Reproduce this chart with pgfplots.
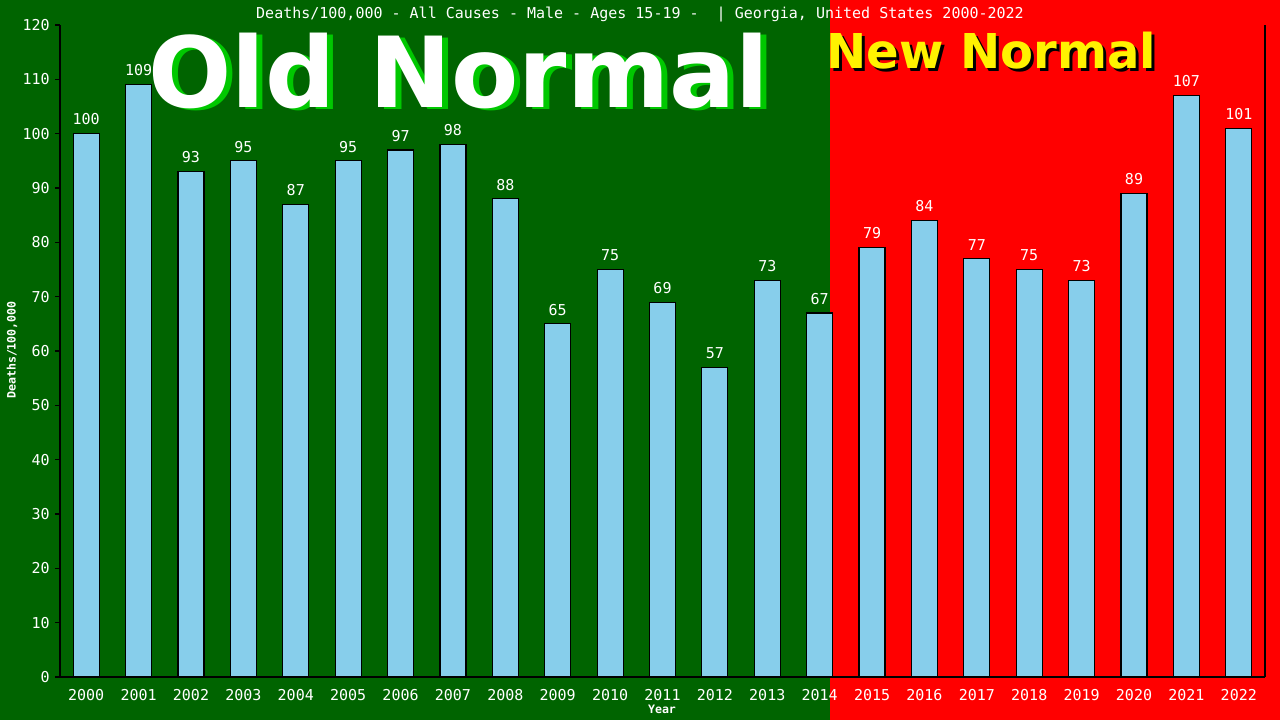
\documentclass[border=0pt]{standalone}
\usepackage{fontspec}
\setmainfont{DejaVu Sans Mono}
\newfontfamily\bigfont{DejaVu Sans}
\usepackage{pgfplots}
\pgfplotsset{compat=1.18}

\definecolor{oldgreen}{RGB}{0,100,0}
\definecolor{newred}{RGB}{255,0,0}
\definecolor{shadowgreen}{RGB}{0,200,0}
\definecolor{barblue}{RGB}{135,206,235}

\pgfplotstableread{
year rate
2000 100
2001 109
2002 93
2003 95
2004 87
2005 95
2006 97
2007 98
2008 88
2009 65
2010 75
2011 69
2012 57
2013 73
2014 67
2015 79
2016 84
2017 77
2018 75
2019 73
2020 89
2021 107
2022 101
}\deathrates

\begin{document}
\begin{tikzpicture}[x=1pt,y=1pt]
% background: old normal / new normal
\fill[oldgreen] (0,0) rectangle (415,360);
\fill[newred] (415,0) rectangle (640,360);

\begin{axis}[
    at={(30pt,21.5pt)}, anchor=south west,
    scale only axis,
    width=602.5pt, height=326pt,
    xmin=1999.5, xmax=2022.5,
    ymin=0, ymax=120,
    axis line style={draw=none},
    xtick={2000,2001,...,2022},
    ytick={0,10,...,120},
    ytick pos=left, xtick pos=bottom,
    tick align=outside,
    major tick length=2.5pt,
    xtick style={draw=none},
    ytick style={black, line width=0.6pt},
    xticklabel style={text=white, font=\fontsize{7.5}{9}\selectfont,
        /pgf/number format/1000 sep={}, inner sep=0pt, yshift=-3.5pt},
    yticklabel style={text=white, font=\fontsize{7.5}{9}\selectfont, inner sep=0pt, xshift=-2.5pt},
    /pgf/number format/assume math mode=true,
    ybar, bar width=13pt,
    nodes near coords,
    every node near coord/.append style={text=white, font=\fontsize{7.5}{9}\selectfont,
        anchor=south, inner sep=0pt, yshift=4pt},
    clip=false,
]
\addplot[fill=barblue, draw=black, line width=0.6pt] table[x=year, y=rate] {\deathrates};
\draw[black, line width=0.6pt] (rel axis cs:0,1) -- (rel axis cs:0,0);
\draw[black, line width=0.6pt] (rel axis cs:1,1) -- (rel axis cs:1,0);
\draw[black, line width=0.6pt] ([xshift=-2.5pt]rel axis cs:0,0) -- (rel axis cs:1,0);
\end{axis}

% title and axis labels
\node[anchor=base, text=white, inner sep=0pt, font=\fontsize{7.5}{9}\selectfont]
    at (320,351) {Deaths/100,000 - All Causes - Male - Ages 15-19 -~~| Georgia, United States 2000-2022};
\node[rotate=90, text=white, inner sep=0pt, font=\fontsize{5.8}{7}\selectfont\bfseries]
    at (6,185) {Deaths/100,000};
\node[text=white, inner sep=0pt, font=\fontsize{5.8}{7}\selectfont\bfseries]
    at (331,5.5) {Year};

% banners
\node[anchor=base west, inner sep=0pt, text=shadowgreen, font=\bigfont\bfseries\fontsize{49}{55}\selectfont]
    at (77,305.5) {Old Normal};
\node[anchor=base west, inner sep=0pt, text=white, font=\bigfont\bfseries\fontsize{49}{55}\selectfont]
    at (74,306.5) {Old Normal};
\node[anchor=base west, inner sep=0pt, text=black, font=\bigfont\bfseries\fontsize{24}{28}\selectfont]
    at (414.5,324.5) {New Normal};
\node[anchor=base west, inner sep=0pt, text=yellow, font=\bigfont\bfseries\fontsize{24}{28}\selectfont]
    at (413,326) {New Normal};

\pgfresetboundingbox
\useasboundingbox (0,0) rectangle (640,360);
\end{tikzpicture}
\end{document}
